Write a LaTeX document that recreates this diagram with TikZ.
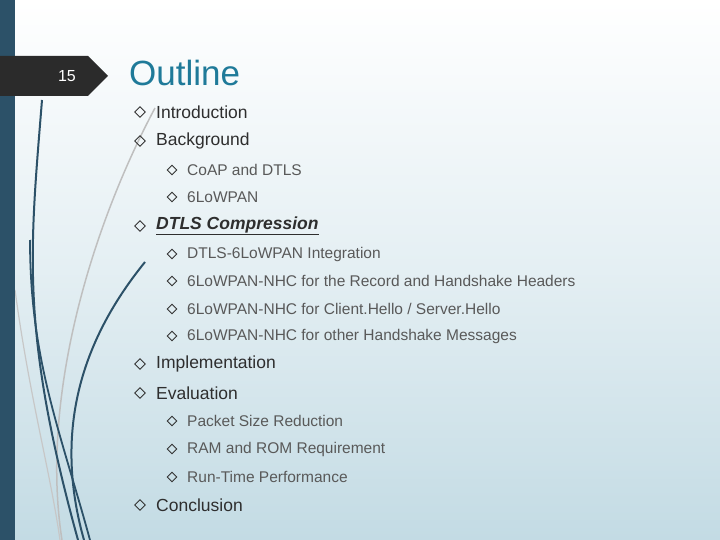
\documentclass[tikz,border=0pt]{standalone}
\usepackage{fontspec}
\setmainfont{Liberation Sans}
\usetikzlibrary{shapes.geometric}
\definecolor{barblue}{HTML}{2C5168}
\definecolor{titleblue}{HTML}{1F7A99}
\definecolor{bgbot}{HTML}{C3DBE4}
\tikzset{
  lone/.style={anchor=west,text=black!82,inner sep=0pt,font=\fontsize{17.5}{20}\selectfont},
  ltwo/.style={anchor=west,text=black!65,inner sep=0pt,font=\fontsize{15.5}{18}\selectfont},
  bul/.style={diamond,draw=black!80,line width=0.9pt,inner sep=0pt,minimum size=11pt},
  bulb/.style={diamond,draw=black!80,line width=0.9pt,inner sep=0pt,minimum size=10pt},
}
\begin{document}
\begin{tikzpicture}[x=1pt,y=-1pt]
\useasboundingbox (0,0) rectangle (720,540);
\shade[top color=white,bottom color=bgbot,middle color=white!55!bgbot] (0,0) rectangle (720,540);
% curves
\draw[black!25,line width=1.5pt] (155,108) .. controls (90,230) and (40,400) .. (62,540);
\draw[black!22,line width=1.2pt] (15,290) .. controls (30,400) and (50,470) .. (60,540);
\draw[barblue,line width=2pt] (42,100) .. controls (30,250) and (20,330) .. (78,540);
\draw[barblue,line width=1.8pt] (30,240) .. controls (30,360) and (60,430) .. (90,540);
\draw[barblue,line width=2pt] (145,262) .. controls (90,330) and (50,420) .. (84,540);
\fill[barblue] (0,0) rectangle (15,540);
\fill[black!83] (0,56) -- (88,56) -- (108,76) -- (88,96) -- (0,96) -- cycle;
\node[text=white,font=\fontsize{16}{18}\selectfont] (num) at (67,76) {15};
\node[anchor=west,text=titleblue,font=\fontsize{35}{40}\selectfont,inner sep=0pt] (title) at (129,73) {Outline};
% items
\foreach \y/\t [count=\i] in {112/Introduction,141/Background,364/Implementation,393/Evaluation,505/Conclusion}{
  \node[bul] (b\i) at (140,\y) {};
  \node[lone] (t\i) at (156,\y) {\t};
}
\node[bul] (bd) at (140,226) {};
\node[lone] (td) at (156,226) {\underline{\textbf{\textit{DTLS Compression}}}};
\foreach \y/\t [count=\i] in {170/{CoAP and DTLS},197/{6LoWPAN},254/{DTLS-6LoWPAN Integration},281/{6LoWPAN-NHC for the Record and Handshake Headers},309/{6LoWPAN-NHC for Client.Hello / Server.Hello},336/{6LoWPAN-NHC for other Handshake Messages},421/{Packet Size Reduction},449/{RAM and ROM Requirement},477/{Run-Time Performance}}{
  \node[bulb] (c\i) at (172,\y) {};
  \node[ltwo] (s\i) at (187,\y) {\t};
}
\end{tikzpicture}
\end{document}
